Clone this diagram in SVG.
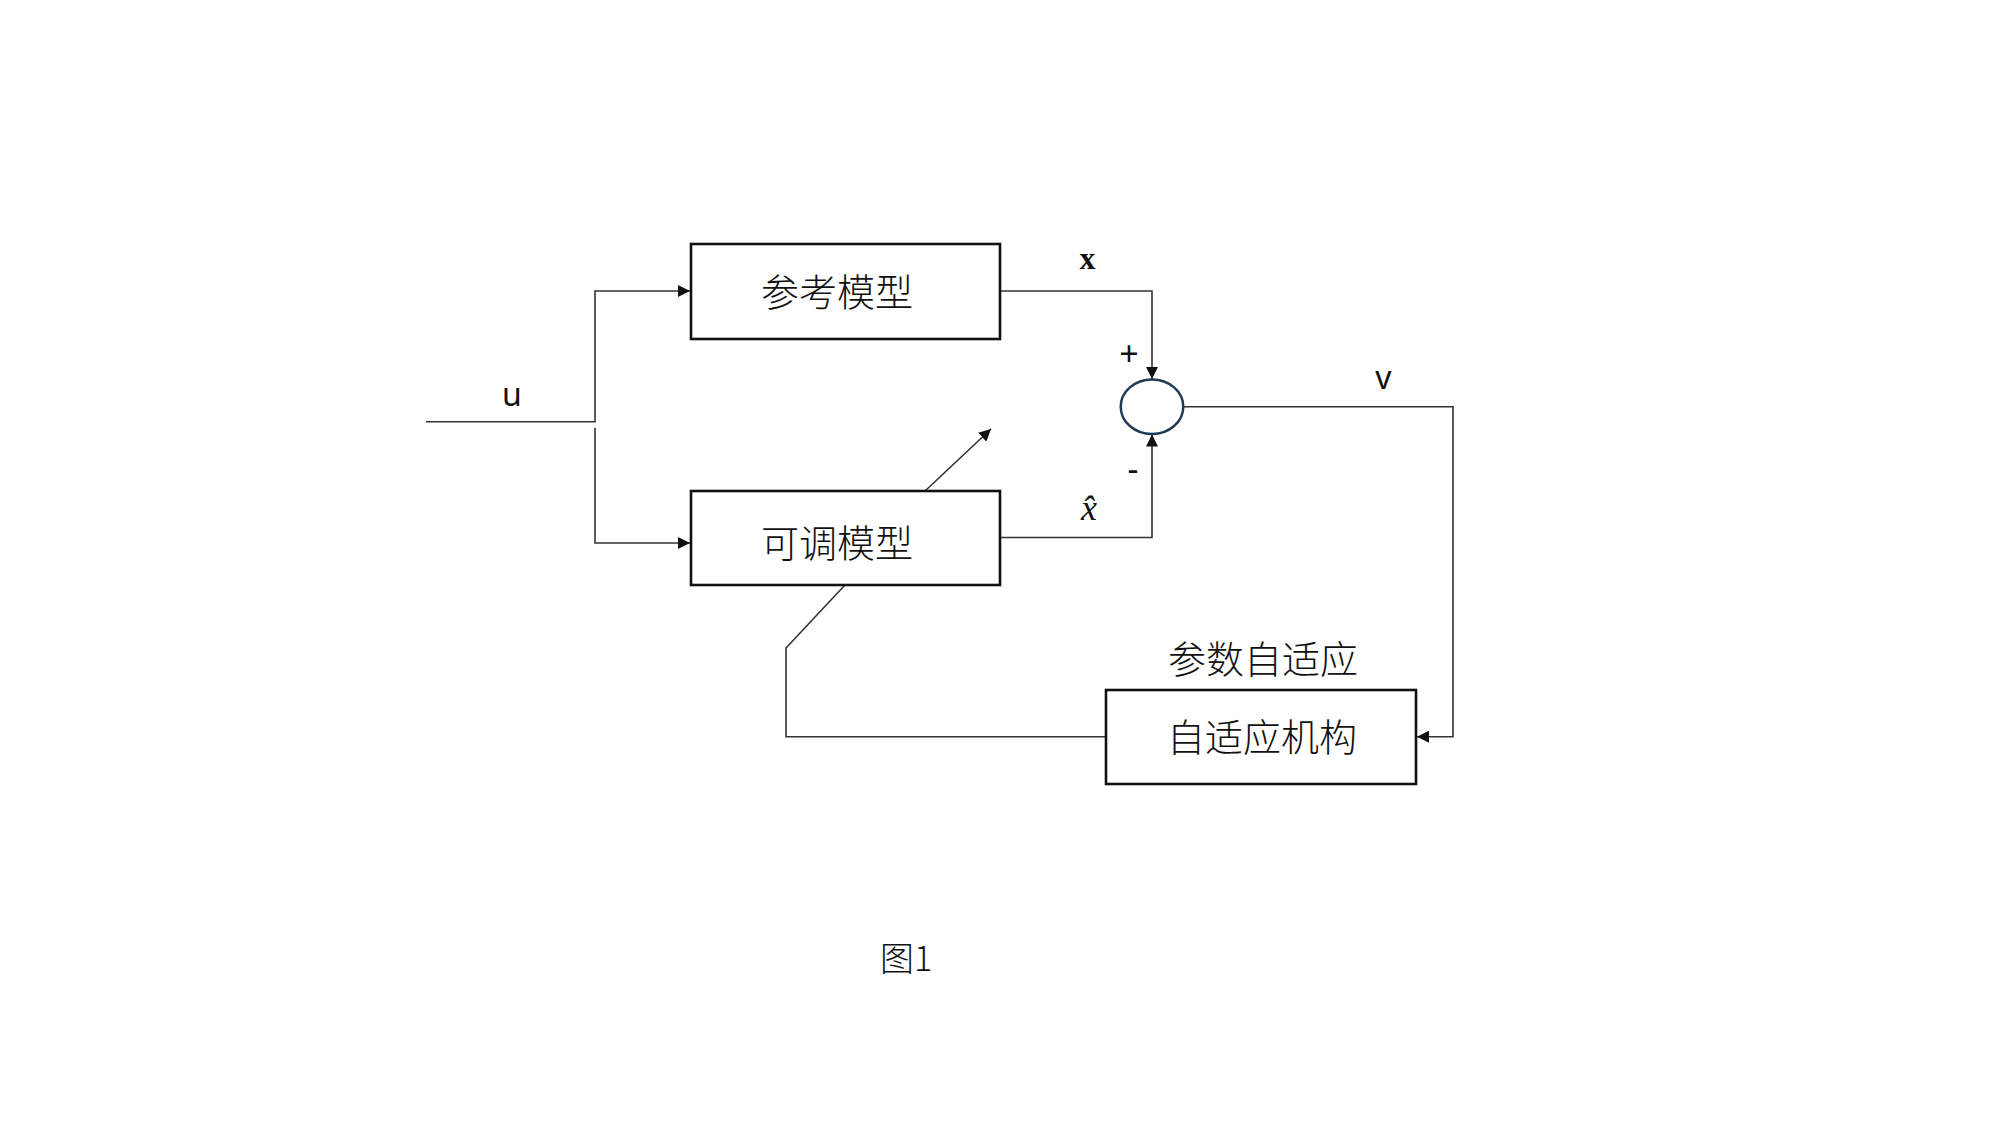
<svg xmlns="http://www.w3.org/2000/svg" width="1999" height="1124" viewBox="0 0 1999 1124">
<style>
.box{fill:#fff;stroke:#111;stroke-width:2.6}
.wire{fill:none;stroke:#333;stroke-width:1.6}
.cjk{font-family:"Noto Sans CJK SC",sans-serif;font-weight:300;fill:#111;text-anchor:middle}
.lbl{font-family:"Noto Sans","Noto Sans CJK SC",sans-serif;fill:#111;text-anchor:middle}
.math{font-family:"Liberation Serif","DejaVu Serif",serif;fill:#111;text-anchor:middle}
</style>
<defs>
<marker id="ah" viewBox="0 0 12 12" refX="12" refY="6" markerWidth="12" markerHeight="12" markerUnits="userSpaceOnUse" orient="auto">
<path d="M0,0 L12,6 L0,12 z" fill="#111"/>
</marker>
</defs>
<rect width="1999" height="1124" fill="#fff"/>
<g id="connectors">
<path class="wire" d="M426,421.7 H595 V291 H690" marker-end="url(#ah)"/>
<path class="wire" d="M595,427.7 V543 H690" marker-end="url(#ah)"/>
<path class="wire" d="M1000,291 H1152 V379" marker-end="url(#ah)"/>
<path class="wire" d="M1000,537.5 H1152 V434.5" marker-end="url(#ah)"/>
<path class="wire" d="M1183.3,406.7 H1453 V736.7 H1417" marker-end="url(#ah)"/>
<path class="wire" d="M1106,736.7 H786 V648 L845,585"/>
<path class="wire" d="M925,491 L991,429" marker-end="url(#ah)"/>
</g>
<g id="ref-model">
<rect class="box" x="691" y="244" width="309" height="95"/>
<text class="cjk" x="837" y="306" font-size="38">参考模型</text>
</g>
<g id="adj-model">
<rect class="box" x="691" y="491" width="309" height="94"/>
<text class="cjk" x="837" y="557" font-size="38">可调模型</text>
</g>
<g id="adapt">
<rect class="box" x="1106" y="690" width="310" height="94"/>
<text class="cjk" x="1262" y="750.5" font-size="38">自适应机构</text>
</g>
<g id="sum">
<ellipse cx="1152" cy="406.7" rx="31.3" ry="27.3" fill="#fff" stroke="#1f3b57" stroke-width="2.5"/>
</g>
<g id="labels">
<text class="lbl" x="512" y="406" font-size="32">u</text>
<text class="math" x="1087.5" y="269" font-size="32" font-weight="bold">x</text>
<text class="math" x="1089" y="520" font-size="36" font-style="italic">x̂</text>
<text class="lbl" x="1383.5" y="389" font-size="32">v</text>
<text class="lbl" x="1129" y="366" font-size="34">+</text>
<text class="lbl" x="1133" y="481" font-size="34">-</text>
<text class="cjk" x="1263" y="672.5" font-size="38">参数自适应</text>
<text x="880" y="971" font-size="34" font-family="Noto Sans CJK SC,sans-serif" font-weight="300" fill="#111">图1</text>
</g>
</svg>
